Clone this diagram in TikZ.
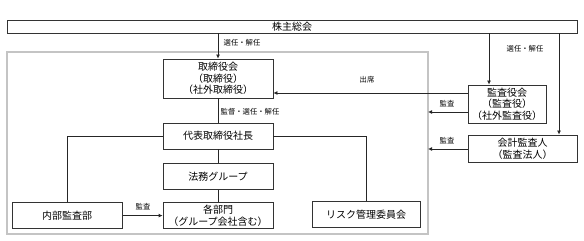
\documentclass[tikz,border=0pt]{standalone}
\usepackage{fontspec}
\usepackage{tikz}
\usetikzlibrary{positioning,arrows.meta,calc}
\newfontfamily\jp{Noto Sans CJK JP}
\definecolor{frm}{HTML}{C4C4C4}

\begin{document}
\begin{tikzpicture}[
  x=0.75pt, y=-0.75pt,
  org/.style={draw=black!80, line width=0.6pt, fill=white, align=center, inner sep=0pt, font=\jp\fontsize{7.5}{8.7}\selectfont, minimum width=82.5pt, minimum height=19.5pt},
  lbl/.style={font=\jp\fontsize{5.5}{6}\selectfont, inner sep=1pt},
  arr/.style={-{Latex[length=3pt,width=3pt]}, line width=0.6pt, draw=black!85},
  ln/.style={line width=0.6pt, draw=black!85}]
\useasboundingbox (0,0) rectangle (584,241);
\draw[frm, line width=1.1pt] (7,52) rectangle (428,234);
\node[org, minimum width=427.5pt, minimum height=9.75pt] (soukai) at (292,26.5) {株主総会};
\node[org, minimum height=29.25pt] (torishimari) at (218,78.5) {取締役会\\（取締役）\\（社外取締役）};
\node[org] (shacho) at (218,136) {代表取締役社長};
\node[org, below=10.5pt of shacho] (houmu) {法務グループ};
\node[org, below=9pt of houmu] (bumon) {各部門\\（グループ会社含む）};
\node[org, left=30pt of bumon] (naibu) {内部監査部};
\node[org, minimum width=81pt] (risk) at (366,214.5) {リスク管理委員会};
\node[org, minimum width=58.5pt, minimum height=28.5pt] (kansa) at (507,104) {監査役会\\（監査役）\\（社外監査役）};
\node[org, minimum width=81.75pt, minimum height=20.25pt] (kaikei) at (522.5,148.5) {会計監査人\\（監査法人）};
\coordinate (k1) at (489,0);
\coordinate (k2) at (559,0);
\coordinate (fr) at (428,0);
\coordinate (y1) at (0,93);
\coordinate (y2) at (0,112);
\coordinate (y3) at (0,149);
\draw[arr] (soukai.south -| torishimari.north) -- (torishimari.north);
\draw[arr] (soukai.south -| k1) -- (kansa.north -| k1);
\draw[arr] (soukai.south -| k2) -- (kaikei.north -| k2);
\draw[arr] (kansa.west |- y1) -- (torishimari.east |- y1);
\draw[arr] (kansa.west |- y2) -- (fr |- y2);
\draw[arr] (kaikei.west |- y3) -- (fr |- y3);
\foreach \a/\b in {torishimari/shacho,shacho/houmu,houmu/bumon} \draw[ln] (\a) -- (\b);
\draw[ln] (naibu.north) |- (shacho.west);
\draw[ln] (shacho.east) -| (risk.north);
\draw[arr] (naibu) -- (bumon);
\node[lbl] (sen1) at (242,43) {選任・解任};
\node[lbl] (sen2) at (525,49) {選任・解任};
\node[lbl] (shusseki) at (367,80) {出席};
\node[lbl] (kantoku) at (250,112) {監督・選任・解任};
\node[lbl] (kansa1) at (447,104) {監査};
\node[lbl] (kansa2) at (447,141) {監査};
\node[lbl] (kansa3) at (143,207) {監査};
\end{tikzpicture}
\end{document}
